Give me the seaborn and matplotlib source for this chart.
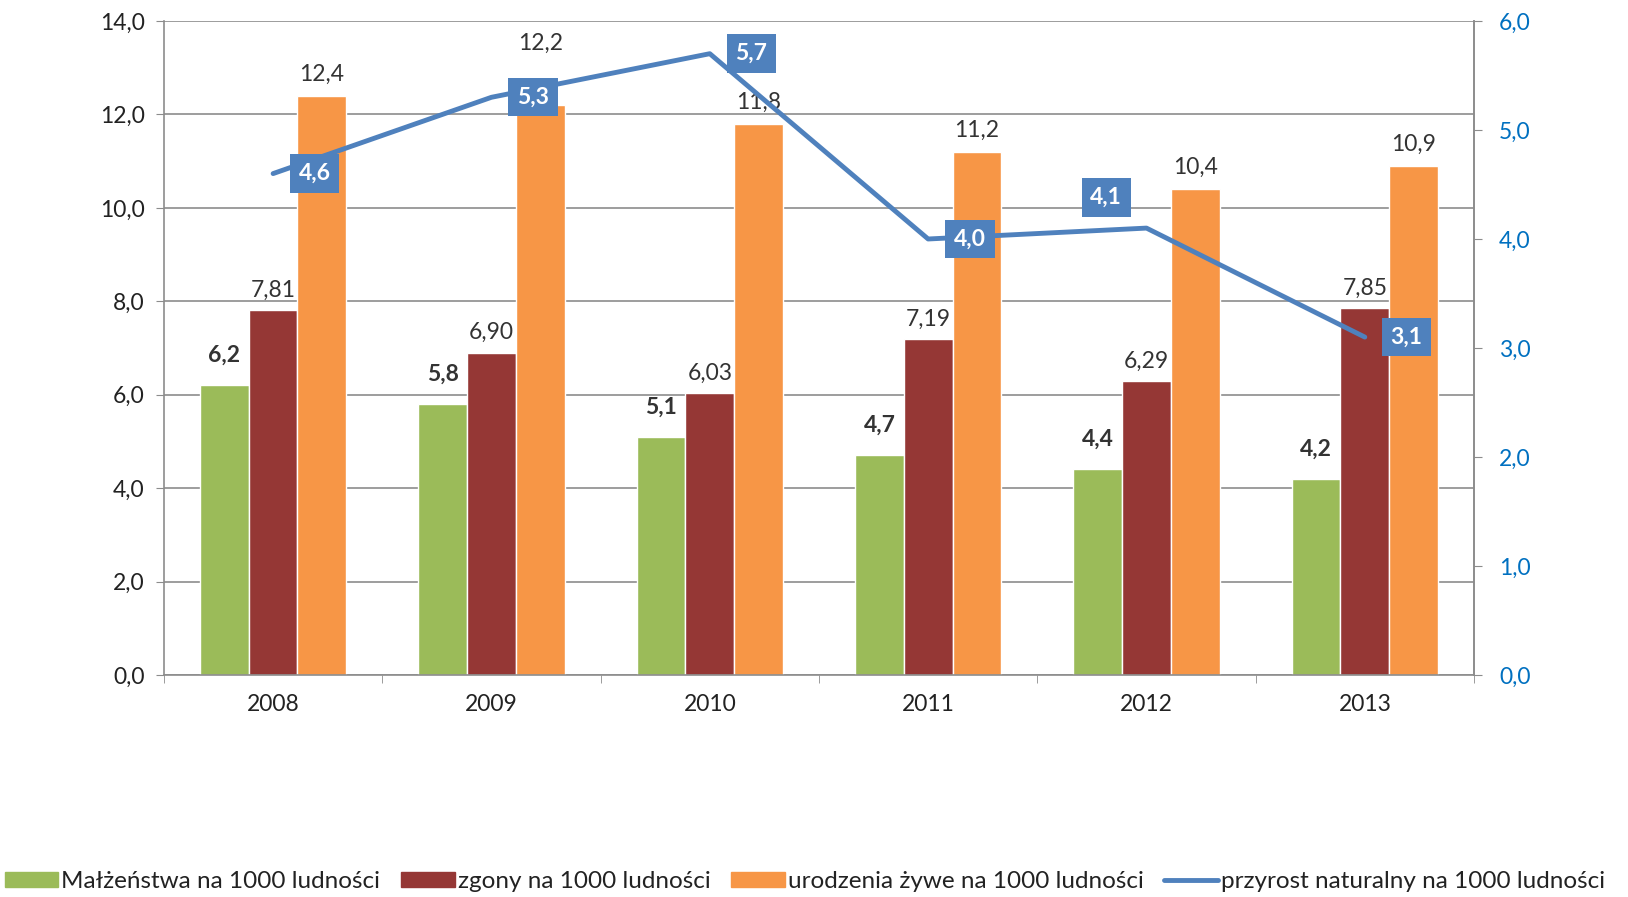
import pandas as pd
import numpy as np
import matplotlib.pyplot as plt
import seaborn as sns

years = ["2008", "2009", "2010", "2011", "2012", "2013"]
malzenstwa = [6.2, 5.8, 5.1, 4.7, 4.4, 4.2]
zgony = [7.81, 6.90, 6.03, 7.19, 6.29, 7.85]
urodzenia = [12.4, 12.2, 11.8, 11.2, 10.4, 10.9]
przyrost = [4.6, 5.3, 5.7, 4.0, 4.1, 3.1]

names = ["Małżeństwa na 1000 ludności", "zgony na 1000 ludności",
         "urodzenia żywe na 1000 ludności", "przyrost naturalny na 1000 ludności"]
colors = ["#9BBB59", "#953735", "#F79646"]
line_color = "#4F81BD"

sns.set_style("white")
plt.rcParams["font.family"] = ["Lato", "DejaVu Sans"]
fs = 16.5

df = pd.DataFrame({"rok": years * 3,
                   "seria": [names[0]] * 6 + [names[1]] * 6 + [names[2]] * 6,
                   "wartosc": malzenstwa + zgony + urodzenia})

fig = plt.figure(figsize=(16.28, 8.97), dpi=100)
ax = fig.add_axes([0.1007, 0.2475, 0.8047, 0.7291])
sns.barplot(data=df, x="rok", y="wartosc", hue="seria", palette=colors,
            width=0.67, saturation=1, ax=ax, legend=False)

ax.set_ylim(0, 14)
ax.set_yticks(np.arange(0, 14.1, 2))
ax.set_yticklabels([f"{v:.1f}".replace(".", ",") for v in np.arange(0, 14.1, 2)])
ax.set_xlim(-0.5, 5.5)
ax.set_xlabel("")
ax.set_ylabel("")
ax.grid(axis="y", color="#8c8c8c", linewidth=1.2)
ax.set_axisbelow(True)
ax.spines["top"].set_visible(False)
for s in ["left", "bottom", "right"]:
    ax.spines[s].set_color("#8c8c8c")
    ax.spines[s].set_linewidth(1.2)
ax.tick_params(axis="y", labelsize=fs, colors="#8c8c8c", labelcolor="#222222",
               length=6, direction="out", left=True, pad=8)
ax.tick_params(axis="x", labelsize=fs, labelcolor="#222222", length=0, pad=14)
ax.set_xticks(np.arange(-0.5, 6, 1), minor=True)
ax.tick_params(axis="x", which="minor", length=6, color="#8c8c8c", direction="out", bottom=True)

# podpisy słupków
bw = 0.67 / 3
for i in range(len(years)):
    ax.annotate(f"{malzenstwa[i]:.1f}".replace(".", ","), (i - bw, malzenstwa[i]),
                xytext=(0, 14), textcoords="offset points", ha="center", va="bottom",
                fontsize=fs, fontweight="bold", color="#333333")
    ax.annotate(f"{zgony[i]:.2f}".replace(".", ","), (i, zgony[i]),
                xytext=(0, 7), textcoords="offset points", ha="center", va="bottom",
                fontsize=fs, color="#333333")
    off = 37 if i == 1 else 8
    ax.annotate(f"{urodzenia[i]:.1f}".replace(".", ","), (i + bw, urodzenia[i]),
                xytext=(0, off), textcoords="offset points", ha="center", va="bottom",
                fontsize=fs, color="#333333")

ax2 = ax.twinx()
sns.lineplot(x=np.arange(len(years)), y=przyrost, color=line_color, linewidth=3.5,
             ax=ax2, solid_capstyle="round")
ax2.set_ylim(0, 6)
ax2.set_yticks(np.arange(0, 6.1, 1))
ax2.set_yticklabels([f"{v:.1f}".replace(".", ",") for v in np.arange(0, 6.1, 1)])
ax2.tick_params(axis="y", labelsize=fs, colors="#8c8c8c", labelcolor="#0070C0",
                length=6, direction="out", right=True, pad=12)
for s in ["top", "left", "bottom"]:
    ax2.spines[s].set_visible(False)
ax2.spines["right"].set_color("#8c8c8c")
ax2.spines["right"].set_linewidth(1.2)

for i in range(len(years)):
    dx, dy = (30, 0)
    if i == 4:
        dx, dy = (-29, 22)
    ax2.annotate(f"{przyrost[i]:.1f}".replace(".", ","), (i, przyrost[i]),
                 xytext=(dx, dy), textcoords="offset points", ha="center", va="center",
                 fontsize=fs, fontweight="bold", color="white",
                 bbox=dict(boxstyle="square,pad=0.38", fc=line_color, ec="none"))

handles = [plt.Rectangle((0, 0), 1, 1, color=c) for c in colors]
handles.append(plt.Line2D([0], [0], color=line_color, linewidth=3.5))
fig.legend(handles, names, loc="center left", bbox_to_anchor=(0.0, 0.017), ncol=4,
           frameon=False, fontsize=17.5, handlelength=2.2, handleheight=0.55,
           handletextpad=0.13, columnspacing=0.85, labelcolor="#222222",
           borderaxespad=0, borderpad=0.2)

fig.savefig("out.png", dpi=100)
